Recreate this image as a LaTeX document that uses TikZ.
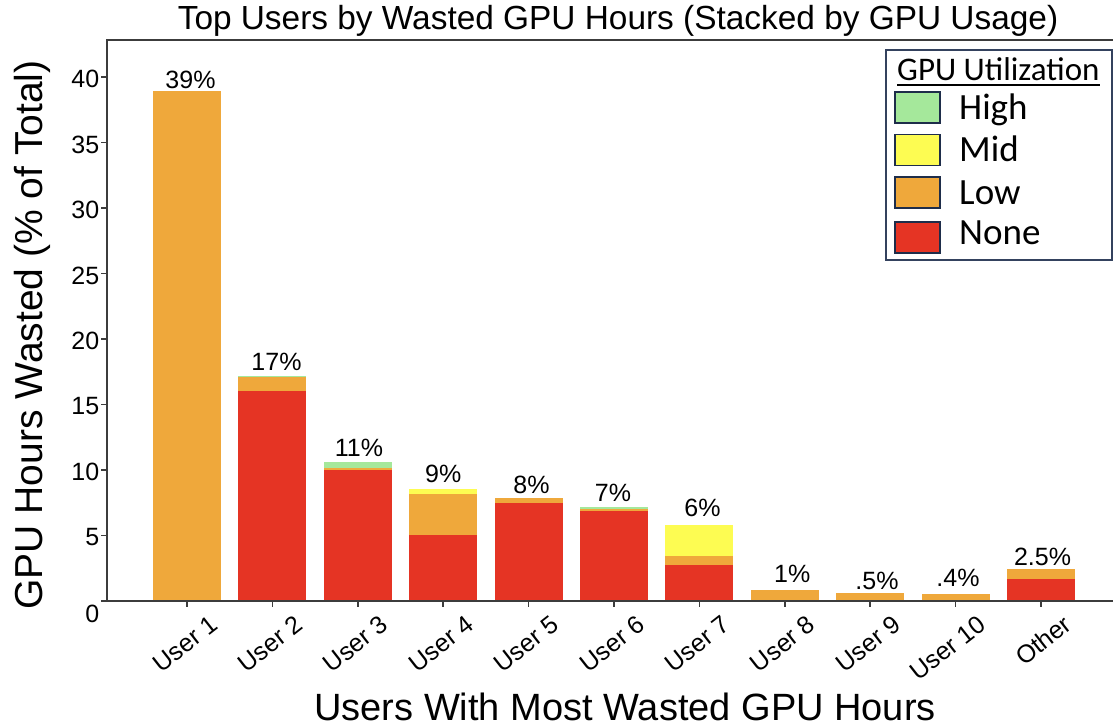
\documentclass[tikz,border=0pt]{standalone}
\usepackage{fontspec}
\setmainfont{Liberation Sans}
\newfontfamily\legfont{Carlito}
\definecolor{cLow}{HTML}{EFA83B}
\definecolor{cNone}{HTML}{E53424}
\definecolor{cHigh}{HTML}{A5E89B}
\definecolor{cMid}{HTML}{FDFC52}
\definecolor{axisc}{HTML}{3C3C3C}
\definecolor{legedge}{HTML}{34425E}
\definecolor{swedge}{HTML}{1E2D4A}
\newcommand{\barseg}[4]{\fill[#4] ({#1-34},#2) rectangle ({#1+34},#3);}
\begin{document}
\begin{tikzpicture}[x=1pt,y=-1pt,
 axisline/.style={draw=axisc,line width=1.5pt},
 ticklab/.style={font=\fontsize{25}{30}\selectfont,anchor=east,inner sep=0},
 barlab/.style={font=\fontsize{25}{30}\selectfont,anchor=base,inner sep=0},
 xticklab/.style={font=\fontsize{25}{28}\selectfont,anchor=east,rotate=38,inner sep=0},
 swatch/.style={draw=swedge,line width=1.5pt,minimum width=45pt,minimum height=31pt,inner sep=0},
 legtext/.style={font=\legfont\fontsize{37}{40}\selectfont,anchor=base west,inner sep=0},
]
\useasboundingbox (0,0) rectangle (1113,727);
\fill[white] (0,0) rectangle (1113,727);

% title
\node[anchor=base,inner sep=0,font=\fontsize{33.4}{38}\selectfont] (title) at (618,29.5) {Top Users by Wasted GPU Hours (Stacked by GPU Usage)};

% bars
\barseg{187}{601}{91.4}{cLow}
\barseg{272.4}{601}{391.4}{cNone}
\barseg{272.4}{391.4}{377.3}{cLow}
\barseg{272.4}{377.3}{376.0}{cHigh}
\barseg{357.8}{601}{469.5}{cNone}
\barseg{357.8}{469.5}{468.3}{cLow}
\barseg{357.8}{468.3}{461.5}{cHigh}
\barseg{443.2}{601}{534.5}{cNone}
\barseg{443.2}{534.5}{493.6}{cLow}
\barseg{443.2}{493.6}{489.3}{cMid}
\barseg{528.6}{601}{503.3}{cNone}
\barseg{528.6}{503.3}{498.3}{cLow}
\barseg{614}{601}{510.6}{cNone}
\barseg{614}{510.6}{508.5}{cLow}
\barseg{614}{508.5}{506.7}{cHigh}
\barseg{699.4}{601}{565}{cNone}
\barseg{699.4}{565}{555.7}{cLow}
\barseg{699.4}{555.7}{525}{cMid}
\barseg{784.8}{601}{590}{cLow}
\barseg{870.2}{601}{593.3}{cLow}
\barseg{955.6}{601}{594.3}{cLow}
\barseg{1041}{601}{579.3}{cNone}
\barseg{1041}{579.3}{569.3}{cLow}

% bar labels
\node[barlab] (b1) at (190.5,88.3) {39\%};
\node[barlab] (b2) at (276.5,370) {17\%};
\node[barlab] (b3) at (359,456.7) {11\%};
\node[barlab] (b4) at (443.3,482.7) {9\%};
\node[barlab] (b5) at (531.5,493.3) {8\%};
\node[barlab] (b6) at (613,501.7) {7\%};
\node[barlab] (b7) at (702.5,516.7) {6\%};
\node[barlab] (b8) at (792.3,582.7) {1\%};
\node[barlab] (b9) at (877,589.3) {.5\%};
\node[barlab] (b10) at (958,586.7) {.4\%};
\node[barlab] (b11) at (1042.5,565) {2.5\%};

% axes
\draw[axisline] (1113,40) -- (107,40) -- (107,601) -- (1113,601);

% y ticks
\foreach \v/\y in {5/535.5,10/470,15/404.5,20/339,25/273.5,30/208,35/142.5,40/77}{
  \draw[axisline] (101,\y) -- (107,\y);
  \node[ticklab] (yt\v) at (99.5,{\y+2}) {\v};
}
\draw[axisline] (101,601) -- (107,601);
\node[ticklab] (yt0) at (99.5,614) {0};

% x ticks and labels
\foreach \i/\c/\t in {1/187/User 1,2/272.4/User 2,3/357.8/User 3,4/443.2/User 4,5/528.6/User 5,6/614/User 6,7/699.4/User 7,8/784.8/User 8,9/870.2/User 9,10/955.6/User 10,11/1041/Other}{
  \draw[axisline] (\c,601) -- (\c,607);
  \node[xticklab] (xt\i) at ({\c+27},621) {\t};
}

% axis labels
\node[rotate=90,anchor=base,inner sep=0,font=\fontsize{39}{44}\selectfont] (ylab) at (42,335) {GPU Hours Wasted (\% of Total)};
\node[anchor=base,inner sep=0,font=\fontsize{38}{44}\selectfont] (xlab) at (625,720) {Users With Most Wasted GPU Hours};

% legend
\draw[draw=legedge,line width=1.5pt,fill=white] (886,50) rectangle (1112,260);
\node[anchor=base west,inner sep=0,font=\legfont\fontsize{33}{38}\selectfont] (legtitle) at (897,80.5) {GPU Utilization};
\draw[line width=2pt] ([yshift=-4.5pt]legtitle.base west) -- ([yshift=-4.5pt]legtitle.base east);
\node[swatch,fill=cHigh] (swH) at (917.5,107.5) {};
\node[swatch,fill=cMid] (swM) at (917.5,150) {};
\node[swatch,fill=cLow] (swL) at (917.5,192.5) {};
\node[swatch,fill=cNone] (swN) at (917.5,237.5) {};
\node[legtext] (lH) at (959,120) {High};
\node[legtext] (lM) at (959,161.7) {Mid};
\node[legtext] (lL) at (959,205) {Low};
\node[legtext] (lN) at (959,245) {None};
\end{tikzpicture}
\end{document}
